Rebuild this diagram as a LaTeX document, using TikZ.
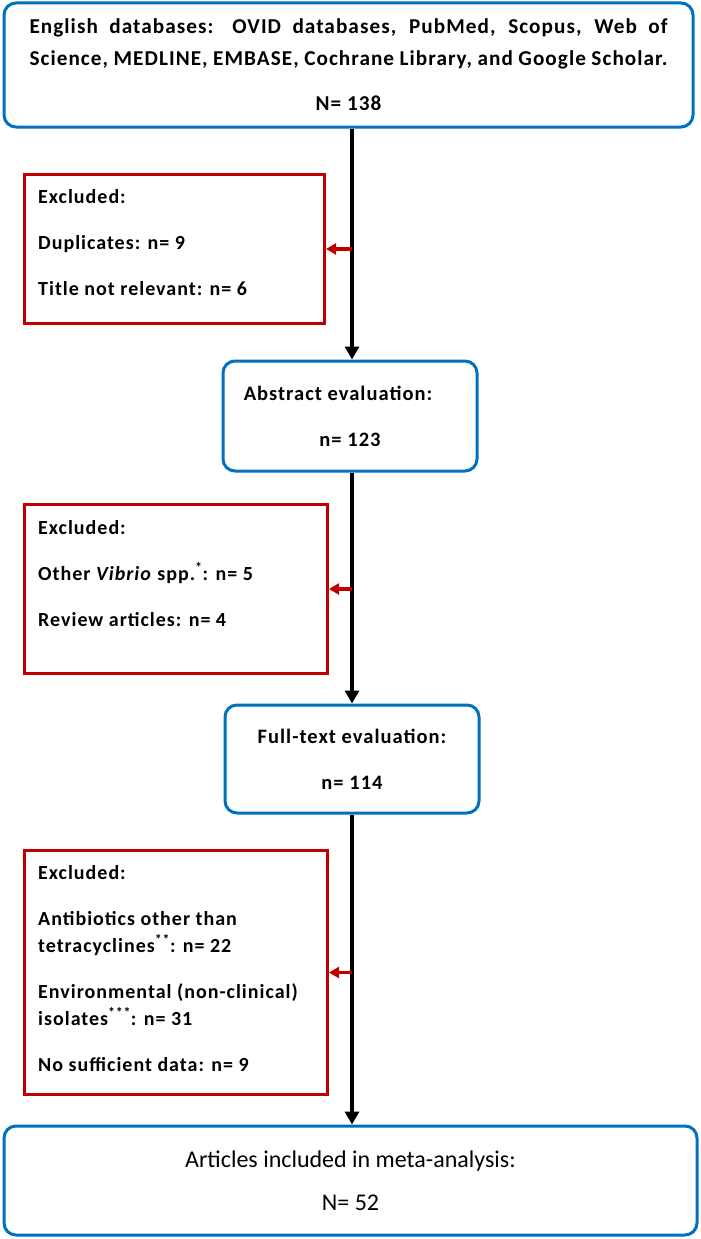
\documentclass[tikz,border=0pt]{standalone}
\usepackage{fontspec}
\setmainfont{Carlito}
\newfontfamily\spaced{Carlito}[LetterSpace=5]
\usetikzlibrary{arrows.meta}
\definecolor{bluebox}{RGB}{0,112,192}
\definecolor{redbox}{RGB}{192,0,0}
\begin{document}
\begin{tikzpicture}[x=1pt,y=-1pt,
  bbox/.style={draw=bluebox, line width=3pt, rounded corners=12pt, inner sep=0pt, align=center},
  rbox/.style={draw=redbox, line width=3pt, inner sep=0pt, anchor=north west},
  rtext/.style={anchor=north west, align=left, inner sep=0pt, font=\spaced\bfseries\fontsize{20}{27}\selectfont},
  btext/.style={font=\spaced\bfseries\fontsize{20.5}{26}\selectfont},
  flow/.style={line width=4pt, -{Triangle[width=14pt,length=13pt]}},
  rflow/.style={draw=redbox, line width=3.5pt, -{Triangle[width=11pt,length=10pt]}}]
\useasboundingbox (0,0) rectangle (701,1239);
% blue boxes
\node[bbox, minimum width=689pt, minimum height=124pt] (top) at (348.5,65)
  {\begin{minipage}{638pt}\spaced\bfseries\fontsize{21.2}{32}\selectfont
   English databases: OVID databases, PubMed, Scopus, Web of\linebreak
   Science, MEDLINE, EMBASE, Cochrane Library, and Google Scholar.\par
   \vspace{13pt}\centering N= 138\end{minipage}};
\node[bbox, btext, minimum width=254pt, minimum height=110pt] (ab) at (350,416)
  {Abstract evaluation:\hspace*{24pt}\\[20pt] n= 123};
\node[bbox, btext, minimum width=254pt, minimum height=108pt] (ft) at (352,759)
  {Full-text evaluation:\\[20pt] n= 114};
\node[bbox, font=\fontsize{24}{26}\selectfont, minimum width=693pt, minimum height=109pt] (fin) at (350.5,1180.5)
  {Articles included in meta-analysis:\\[17pt] N= 52};
% red boxes
\node[rbox, minimum width=300pt, minimum height=149pt] (ex1) at (23,173) {};
\node[rbox, minimum width=303pt, minimum height=169pt] (ex2) at (23,503) {};
\node[rbox, minimum width=303pt, minimum height=244pt] (ex3) at (23,849) {};
\node[rtext] (t1) at (38,189)
  {Excluded:\\[19pt] Duplicates: n= 9\\[19pt] Title not relevant: n= 6};
\node[rtext] (t2) at (38,520)
  {Excluded:\\[19pt] Other \textit{Vibrio} spp.\textsuperscript{*}: n= 5\\[19pt] Review articles: n= 4};
\node[rtext] (t3) at (38,865)
  {Excluded:\\[19pt] Antibiotics other than\\ tetracyclines\textsuperscript{**}: n= 22\\[19pt]
   Environmental (non-clinical)\\ isolates\textsuperscript{***}: n= 31\\[19pt] No sufficient data: n= 9};
% connectors
\coordinate (sp) at (352,0);
\draw[flow] (top.south -| sp) -- (ab.north -| sp);
\draw[flow] (ab.south -| sp) -- (ft.north -| sp);
\draw[flow] (ft.south -| sp) -- (fin.north -| sp);
\draw[rflow] (ex1.east -| sp) -- (ex1.east);
\draw[rflow] (ex2.east -| sp) -- (ex2.east);
\draw[rflow] (ex3.east -| sp) -- (ex3.east);
\end{tikzpicture}
\end{document}
